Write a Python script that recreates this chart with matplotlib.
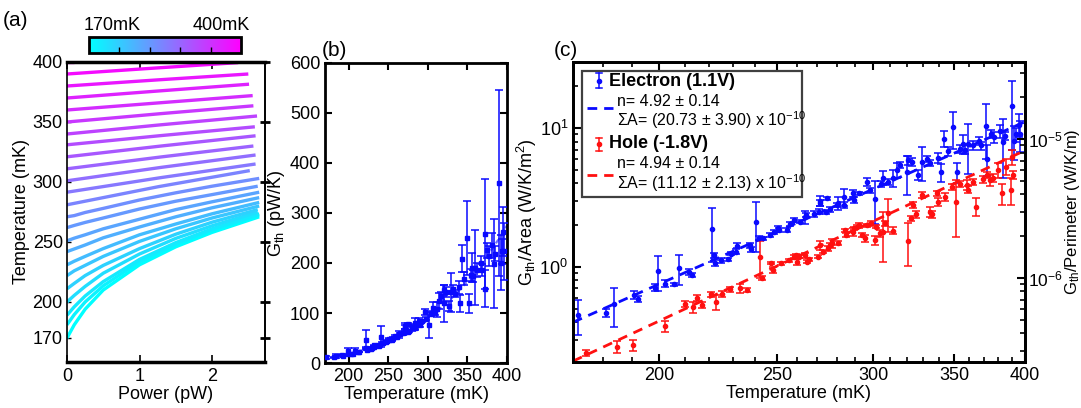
import numpy as np
import matplotlib
matplotlib.use('Agg')
import matplotlib.pyplot as plt
from matplotlib import cm, colors, ticker
from matplotlib.patches import Rectangle

plt.rcParams['font.family'] = ['Liberation Sans', 'DejaVu Sans']
plt.rcParams['mathtext.fontset'] = 'custom'
plt.rcParams['mathtext.rm'] = 'Liberation Sans'
plt.rcParams['mathtext.it'] = 'Liberation Sans:italic'
plt.rcParams['mathtext.bf'] = 'Liberation Sans:bold'
plt.rcParams['font.size'] = 13

# ---------------- data: panel (a) heating curves ----------------
curve_T0 = [170, 181, 189, 200, 211, 222, 231, 242, 251, 262, 271,
            281, 291.5, 301, 311, 321, 331, 340, 350, 360, 370, 380, 390, 400]
curve_P = [
    [0, 0.1, 0.25, 0.5, 1.0, 1.5, 2.0, 2.65],
    [0, 0.1, 0.25, 0.5, 1.0, 1.5, 2.0, 2.65],
    [0, 0.1, 0.25, 0.5, 1.0, 1.5, 2.0, 2.65],
    [0, 0.1, 0.25, 0.5, 1.0, 1.5, 2.0, 2.63],
    [0, 0.1, 0.25, 0.5, 1.0, 1.5, 2.0, 2.63],
    [0, 0.1, 0.25, 0.5, 1.0, 1.5, 2.0, 2.65],
    [0, 0.1, 0.25, 0.5, 1.0, 1.5, 2.0, 2.65],
    [0, 0.1, 0.25, 0.5, 1.0, 1.5, 2.0, 2.65],
    [0, 0.1, 0.25, 0.5, 1.0, 1.5, 2.0, 2.65],
    [0, 0.1, 0.25, 0.5, 1.0, 1.5, 2.0, 2.63],
    [0, 0.1, 0.25, 0.5, 1.0, 1.5, 2.0, 2.65],
    [0, 1.26, 2.52],
    [0, 1.3, 2.60],
    [0, 1.3, 2.60],
    [0, 1.3, 2.57],
    [0, 1.3, 2.60],
    [0, 1.3, 2.59],
    [0, 1.3, 2.62],
    [0, 1.3, 2.57],
    [0, 1.3, 2.56],
    [0, 1.25, 2.51],
    [0, 1.25, 2.50],
    [0, 1.2, 2.36],
    [0, 0.1],
]
curve_T = [
    [170, 181, 194, 210, 231, 246, 258, 271],
    [181, 189.5, 200, 213.5, 233.5, 248, 260, 272.5],
    [189, 196, 205, 217, 235.5, 249.5, 261, 273.5],
    [200, 205.5, 213, 224, 240, 253, 263.5, 275],
    [211, 215.5, 222, 230.5, 244.5, 256.5, 266.5, 277],
    [222, 226, 230.5, 238, 250.5, 261, 270, 280],
    [231, 234, 238, 244.5, 256, 265, 273.5, 283],
    [242, 244.2, 247.5, 253.5, 262.5, 271, 278.5, 287],
    [251, 253.2, 256, 261, 269, 277, 283.5, 291.5],
    [262, 263.8, 266.3, 270, 277.5, 284, 289.5, 296.5],
    [271, 272, 274.6, 278, 285, 291, 296.5, 303],
    [281, 296.1, 309.5],
    [291.5, 303.7, 315],
    [301, 312.2, 322.5],
    [311, 320.9, 330],
    [321, 330, 338.5],
    [331, 338.7, 346],
    [340, 347.7, 355],
    [350, 357, 363.5],
    [360, 366.1, 372],
    [370, 375.8, 381.5],
    [380, 385.1, 390],
    [390, 394.9, 399.5],
    [400, 400],
]
cbar_ticks = [216, 262, 308, 354]
a_yticks = [170, 200, 250, 300, 350, 400]

# ---------------- data: thermal conductance (per area, W/K/m^2) ----------------
blue_T = [171.7, 181.0, 183.8, 190.9, 192.3, 198.5, 199.5, 202.3, 205.9, 207.6,
          211.8, 213.1, 221.3, 222.0, 222.5, 224.8, 227.9, 229.4, 231.3, 232.0,
          237.6, 238.0, 240.6, 241.7, 243.7, 246.7, 248.6, 250.5, 251.0, 255.0,
          256.2, 258.2, 261.1, 263.9, 264.4, 268.1, 270.6, 271.1, 271.5, 274.6,
          275.0, 276.7, 280.2, 280.5, 283.7, 283.9, 289.1, 289.5, 292.4, 296.7,
          298.0, 300.9, 304.5, 306.0, 308.5, 311.6, 313.7, 316.0, 320.0, 320.5,
          323.0, 326.4, 329.4, 332.0, 334.0, 339.0, 341.2, 343.4, 346.0, 348.9,
          351.8, 354.0, 355.9, 357.0, 359.0, 362.5, 366.7, 368.0, 371.8, 372.5,
          375.2, 377.0, 381.6, 383.6, 385.0, 390.5, 392.0, 393.5, 395.5, 396.0]
blue_G = [0.45, 0.47, 0.54, 0.63, 0.59, 0.71, 0.93, 0.76, 0.75, 0.98,
          0.92, 0.88, 1.87, 1.22, 1.07, 1.12, 1.14, 1.25, 1.29, 1.42,
          1.44, 1.34, 2.12, 1.61, 1.61, 1.70, 1.80, 1.90, 1.85, 1.85,
          2.04, 2.18, 2.12, 2.30, 2.37, 2.40, 2.50, 3.00, 2.90, 2.50,
          3.12, 2.60, 2.79, 2.87, 3.20, 2.79, 3.39, 3.03, 3.39, 4.11,
          3.58, 3.10, 3.99, 4.40, 4.11, 4.35, 5.00, 5.42, 4.80, 5.86,
          5.72, 4.60, 5.70, 6.00, 5.60, 6.10, 4.80, 8.40, 6.80, 10.1,
          4.80, 7.10, 7.70, 7.00, 7.70, 7.50, 8.10, 7.50, 10.4, 6.00,
          9.10, 8.60, 9.50, 8.00, 8.80, 14.5, 8.10, 9.00, 10.6, 9.00]
blue_err = [0.125, 0.03, 0.17, 0.04, 0.03, 0.04, 0.26, 0.04, 0.02, 0.24,
            0.04, 0.03, 0.78, 0.05, 0.05, 0.05, 0.03, 0.04, 0.05, 0.06,
            0.06, 0.05, 0.83, 0.05, 0.04, 0.05, 0.06, 0.08, 0.05, 0.06,
            0.08, 0.08, 0.06, 0.25, 0.08, 0.12, 0.10, 0.25, 0.15, 0.08,
            0.08, 0.10, 0.10, 0.30, 0.45, 0.15, 0.20, 0.15, 0.10, 0.25,
            0.15, 1.05, 0.20, 0.50, 0.20, 0.60, 0.65, 0.30, 1.50, 0.40,
            0.40, 0.40, 1.55, 0.30, 0.30, 0.50, 0.70, 1.10, 0.50, 3.00,
            0.80, 0.50, 1.20, 0.50, 3.00, 0.60, 0.50, 0.50, 4.40, 1.50,
            0.60, 0.80, 1.00, 3.60, 0.60, 7.50, 2.20, 1.00, 2.00, 2.30]

red_T = [174.3, 184.8, 190.3, 202.3, 210.1, 213.5, 214.9, 217.2, 220.6, 222.7,
         225.5, 228.8, 233.2, 236.1, 242.4, 243.2, 247.4, 248.3, 251.8, 255.7,
         258.2, 259.5, 259.9, 260.6, 263.9, 264.7, 265.7, 270.1, 271.5, 272.9,
         275.3, 276.3, 277.6, 281.0, 284.6, 285.0, 289.1, 289.4, 291.0, 292.4,
         293.7, 295.6, 296.5, 298.7, 301.2, 301.8, 303.8, 305.6, 306.9, 308.8,
         311.4, 320.7, 322.2, 323.4, 325.5, 328.9, 334.1, 335.2, 338.4, 339.4,
         343.7, 348.1, 351.0, 353.6, 358.1, 358.9, 362.6, 364.9, 369.5, 371.9,
         374.4, 376.3, 380.1, 382.6, 386.2, 389.9, 390.6, 391.0]
red_G = [0.242, 0.267, 0.275, 0.376, 0.542, 0.513, 0.596, 0.533, 0.636, 0.563,
         0.640, 0.691, 0.703, 0.683, 1.186, 0.830, 1.063, 0.952, 1.060, 1.120,
         1.186, 1.220, 1.090, 1.186, 1.220, 1.090, 1.140, 1.186, 1.440, 1.290,
         1.360, 1.440, 1.480, 1.500, 1.840, 1.700, 1.790, 1.900, 1.950, 2.000,
         1.700, 1.610, 2.000, 2.060, 1.560, 1.950, 1.750, 1.790, 2.060, 2.430,
         1.830, 1.550, 2.240, 2.790, 2.400, 3.290, 2.500, 2.400, 3.390, 2.950,
         3.200, 3.780, 2.950, 3.990, 3.900, 3.600, 4.110, 2.720, 4.300, 4.600,
         4.200, 4.400, 4.980, 3.390, 5.270, 3.580, 6.200, 4.600]
red_err = [0.012, 0.025, 0.025, 0.035, 0.03, 0.05, 0.03, 0.03, 0.03, 0.07,
           0.03, 0.03, 0.05, 0.02, 0.35, 0.03, 0.02, 0.04, 0.03, 0.03,
           0.03, 0.03, 0.06, 0.03, 0.05, 0.03, 0.03, 0.03, 0.11, 0.03,
           0.05, 0.04, 0.10, 0.05, 0.05, 0.05, 0.12, 0.05, 0.05, 0.09,
           0.05, 0.10, 0.05, 0.10, 0.12, 0.05, 0.10, 0.70, 0.08, 0.65,
           0.10, 0.53, 0.10, 0.15, 0.15, 0.15, 0.20, 0.15, 0.15, 0.20,
           0.20, 0.20, 1.30, 0.20, 0.30, 0.20, 0.20, 0.40, 0.25, 0.25,
           0.40, 0.30, 0.60, 0.60, 0.70, 0.80, 0.80, 0.30]

# fit lines
fitc_T = [170, 400]
fitc_blue = [0.40, 11.1]
fitc_red = [0.21, 6.9]
fitb_T = [170, 190, 210, 230, 250, 270, 290, 310, 330, 350, 370, 390, 400]
fitb_G = [9.6, 14.9, 22.0, 31.4, 43.6, 58.9, 78.0, 101.3, 129.4, 163, 202.6, 249, 275]

AREA_UM2 = 24.8          # G_th (pW/K) = (G_th/Area) * area
AREA_TO_PERIM = 8.33e5   # ratio of left to right axis of panel (c)

BLUE = '#0a0aff'
RED = '#ff1010'

# ---------------- figure ----------------
W, H = 1081, 408
fig = plt.figure(figsize=(W / 100, H / 100), dpi=100)


def px_axes(l, t, r, b):
    return fig.add_axes([l / W, 1 - b / H, (r - l) / W, (b - t) / H])


# ---------- panel (a) ----------
axa = px_axes(67, 62, 265, 362)
cmap = plt.get_cmap('cool')
norm = colors.Normalize(170, 400)
for T0, P, T in zip(curve_T0, curve_P, curve_T):
    axa.plot(P, T, color=cmap(norm(T0)), lw=2.4, solid_capstyle='butt')
axa.set_xlim(0, 2.73)
axa.set_ylim(150, 400)
axa.set_yticks(a_yticks)
axa.set_xticks([0, 1, 2])
axa.tick_params(axis='x', direction='in', top=True, length=5, width=1.2, labelsize=13, pad=4)
axa.tick_params(axis='y', direction='in', length=3, width=1, labelsize=13, pad=3)
for s in ['top', 'bottom']:
    axa.spines[s].set_linewidth(2.5)
for s in ['left', 'right']:
    axa.spines[s].set_linewidth(1.2)
axa.set_xlabel('Power (pW)', fontsize=13, labelpad=1)
axa.set_ylabel('Temperature (mK)', fontsize=13, labelpad=2)

axa2 = axa.twinx()
axa2.set_ylim(150, 400)
axa2.set_yticks(a_yticks)
axa2.tick_params(axis='y', direction='inout', length=7, width=2, labelright=False)
axa2.spines['right'].set_linewidth(1.2)
for s in ['top', 'bottom', 'left']:
    axa2.spines[s].set_visible(False)

cax = px_axes(89, 37, 241, 53)
cb = fig.colorbar(cm.ScalarMappable(norm=norm, cmap=cmap), cax=cax, orientation='horizontal')
cb.set_ticks(cbar_ticks)
cax.tick_params(labelbottom=False, direction='in', length=4, width=1)
cb.outline.set_linewidth(2)

# ---------- panel (b) ----------
axb = px_axes(325, 63, 507, 363)
bT = np.array(blue_T)
bG = np.array(blue_G) * AREA_UM2
bE = np.array(blue_err) * AREA_UM2
axb.errorbar(bT, bG, yerr=bE, fmt='s', ms=2.2, color=BLUE, ecolor=BLUE,
             elinewidth=1.1, capsize=3, capthick=1.1, zorder=3)
axb.plot(fitb_T, fitb_G, ls=(0, (2, 2)), color='#7070ff', lw=1.6, zorder=2)
axb.set_xlim(170, 400)
axb.set_ylim(0, 600)
axb.set_xticks([200, 250, 300, 350, 400])
axb.set_yticks([0, 100, 200, 300, 400, 500, 600])
axb.tick_params(direction='in', top=True, right=True, length=5, width=1.5, labelsize=13)
for s in axb.spines.values():
    s.set_linewidth(2)
axb.set_xlabel('Temperature (mK)', fontsize=13, labelpad=1)
axb.set_ylabel(r'G$_{\rm th}$ (pW/K)', fontsize=13, labelpad=2)

# ---------- panel (c) ----------
axc = px_axes(573, 62, 1025, 362)
axc.set_xscale('log')
axc.set_yscale('log')
axc.errorbar(blue_T, blue_G, yerr=blue_err, fmt='o', ms=3, color=BLUE, ecolor=BLUE,
             elinewidth=1.1, capsize=3, capthick=1.1, zorder=3)
axc.errorbar(red_T, red_G, yerr=red_err, fmt='o', ms=3, color=RED, ecolor=RED,
             elinewidth=1.1, capsize=3, capthick=1.1, zorder=3)
axc.plot(fitc_T, fitc_blue, ls=(0, (3.5, 2.5)), color=BLUE, lw=2, zorder=4)
axc.plot(fitc_T, fitc_red, ls=(0, (3.5, 2.5)), color=RED, lw=2, zorder=4)
axc.set_xlim(170, 400)
axc.set_ylim(0.207, 29.9)
axc.xaxis.set_major_locator(ticker.FixedLocator([200, 250, 300, 350, 400]))
axc.xaxis.set_major_formatter(ticker.FormatStrFormatter('%d'))
axc.xaxis.set_minor_locator(ticker.FixedLocator(list(range(170, 401, 10))))
axc.xaxis.set_minor_formatter(ticker.NullFormatter())
axc.yaxis.set_minor_formatter(ticker.NullFormatter())
axc.tick_params(which='major', direction='in', top=True, length=6, width=1.5, labelsize=13)
axc.tick_params(which='minor', direction='in', top=True, length=3.5, width=1.2)
axc.tick_params(axis='y', right=False)
for s in axc.spines.values():
    s.set_linewidth(2)
axc.set_xlabel('Temperature (mK)', fontsize=13, labelpad=1)
axc.set_ylabel(r'G$_{\rm th}$/Area (W/K/m$^2$)', fontsize=13, labelpad=0)

axr = axc.twinx()
axr.set_yscale('log')
axr.set_ylim(0.207 / AREA_TO_PERIM, 29.9 / AREA_TO_PERIM)
axr.yaxis.set_minor_formatter(ticker.NullFormatter())
axr.tick_params(which='major', direction='in', length=6, width=1.5, labelsize=12.5, pad=2)
axr.tick_params(which='minor', direction='in', length=3.5, width=1.2)
axr.set_ylabel(r'G$_{\rm th}$/Perimeter (W/K/m)', fontsize=12, labelpad=0)
for s in axr.spines.values():
    s.set_linewidth(2)

# ---------- overlay in pixel coords: labels & legend ----------
ov = fig.add_axes([0, 0, 1, 1], zorder=10)
ov.set_xlim(0, W)
ov.set_ylim(H, 0)
ov.axis('off')

ov.text(16, 20, '(a)', fontsize=15, ha='center', va='center')
ov.text(334, 50, '(b)', fontsize=15, ha='center', va='center')
ov.text(566, 50, '(c)', fontsize=15, ha='center', va='center')
ov.text(112, 25, '170mK', fontsize=13, ha='center', va='center')
ov.text(221, 25, '400mK', fontsize=13, ha='center', va='center')

ov.add_patch(Rectangle((581.5, 70.5), 220, 126, facecolor='white',
                       edgecolor='#404040', lw=1.6))


def eb_handle(x, y, half, color):
    ov.plot([x, x], [y - half, y + half], color=color, lw=1.1)
    ov.plot([x - 3, x + 3], [y - half, y - half], color=color, lw=1.1)
    ov.plot([x - 3, x + 3], [y + half, y + half], color=color, lw=1.1)
    ov.plot([x], [y], 'o', ms=3, color=color)


eb_handle(599, 80.5, 7.5, BLUE)
ov.text(609, 81, 'Electron (1.1V)', fontsize=13, fontweight='bold', va='center')
ov.plot([587, 613], [107.5, 107.5], ls=(0, (3.5, 2.5)), color=BLUE, lw=2)
ov.text(617, 102, 'n= 4.92 ± 0.14', fontsize=11.5, va='center')
ov.text(617, 120.5, r'ΣA= (20.73 ± 3.90) x 10$^{-10}$', fontsize=11.5, va='center')

eb_handle(599, 144, 6.5, RED)
ov.text(609, 144, 'Hole (-1.8V)', fontsize=13, fontweight='bold', va='center')
ov.text(617, 164, 'n= 4.94 ± 0.14', fontsize=11.5, va='center')
ov.plot([587, 613], [175, 175], ls=(0, (3.5, 2.5)), color=RED, lw=2)
ov.text(617, 183, r'ΣA= (11.12 ± 2.13) x 10$^{-10}$', fontsize=11.5, va='center')

fig.savefig('out.png', dpi=100)
